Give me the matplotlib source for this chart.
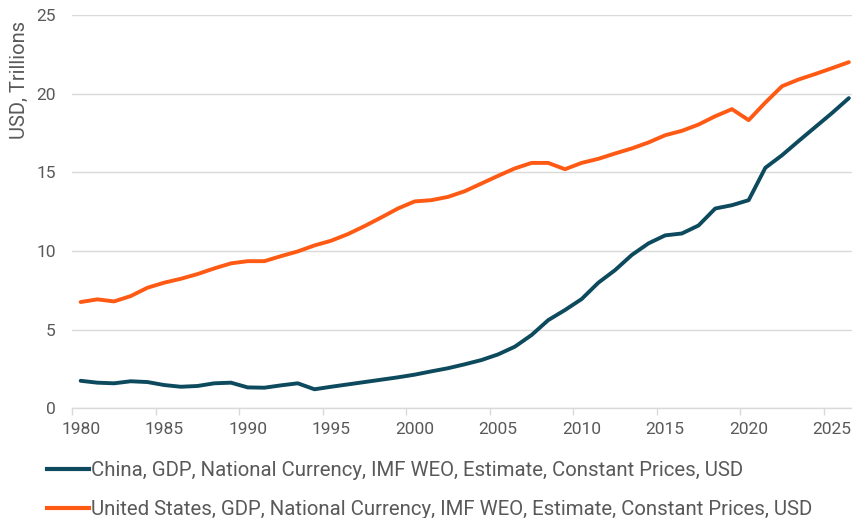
import matplotlib
matplotlib.use("Agg")
import matplotlib.pyplot as plt
from matplotlib.lines import Line2D
import numpy as np

years = list(range(1980, 2027))
china = [1.75, 1.63, 1.59, 1.72, 1.67, 1.48, 1.37, 1.42, 1.59, 1.63,
         1.33, 1.31, 1.46, 1.59, 1.21, 1.37, 1.52, 1.67, 1.82, 1.97,
         2.14, 2.35, 2.55, 2.80, 3.07, 3.43, 3.92, 4.66, 5.61, 6.25,
         6.95, 7.99, 8.79, 9.75, 10.49, 11.00, 11.12, 11.63, 12.71, 12.92,
         13.24, 15.30, 16.10, 17.01, 17.90, 18.79, 19.73]
usa = [6.76, 6.93, 6.80, 7.14, 7.67, 7.99, 8.24, 8.54, 8.90, 9.22,
       9.36, 9.36, 9.68, 9.98, 10.36, 10.66, 11.08, 11.59, 12.14, 12.71,
       13.16, 13.24, 13.45, 13.81, 14.30, 14.79, 15.26, 15.61, 15.61, 15.21,
       15.61, 15.87, 16.21, 16.53, 16.91, 17.37, 17.65, 18.05, 18.58, 19.03,
       18.33, 19.45, 20.49, 20.92, 21.27, 21.64, 22.02]
labels = ["China, GDP, National Currency, IMF WEO, Estimate, Constant Prices, USD",
          "United States, GDP, National Currency, IMF WEO, Estimate, Constant Prices, USD"]
colors = ["#0D4A5E", "#FF5A14"]
xtick_years = list(range(1980, 2026, 5))
yticks = [0, 5, 10, 15, 20, 25]

plt.rcParams['font.family'] = ['Roboto', 'DejaVu Sans']
txt = "#595959"
W, H = 852, 518
fig = plt.figure(figsize=(W/100, H/100), dpi=100)
ax = fig.add_axes([72.3/W, 1-408.3/H, (W-72.3)/W, (408.3-15.3)/H])

for vals, c, lab in zip([china, usa], colors, labels):
    ax.plot(years, vals, color=c, lw=2.8, label=lab, solid_capstyle='round', solid_joinstyle='round')

ax.set_xlim(1979.5, 1979.5 + (W-72.3)/16.7)
ax.set_ylim(0, 25)
ax.set_yticks(yticks)
ax.grid(axis='y', color='#D9D9D9', lw=1)
ax.set_axisbelow(True)
for s in ['top', 'right', 'left']:
    ax.spines[s].set_visible(False)
ax.spines['bottom'].set_color('#D9D9D9')
ax.spines['bottom'].set_linewidth(1)
ax.set_xticks([y - 0.5 for y in xtick_years])
ax.set_xticklabels([])
ax.set_xticks(xtick_years, minor=True)
ax.set_xticklabels([str(y) for y in xtick_years], minor=True)
ax.tick_params(axis='x', which='major', length=5, color='#D9D9D9', width=1)
ax.tick_params(axis='x', which='minor', length=0, pad=10, labelsize=12.5, labelcolor=txt)
ax.tick_params(axis='y', length=0, pad=12, labelsize=12.5, labelcolor=txt)

fig.text(19/W, 1-80/H, "USD, Trillions", rotation=90, ha='center', va='center',
         fontsize=14.5, color=txt)

handles = [Line2D([0], [0], color=c, lw=3) for c in colors]
fig.legend(handles, labels, loc='upper left', bbox_to_anchor=(47/W, 1-461/H),
           frameon=False, fontsize=14.7, labelcolor=txt, handlelength=2.05,
           handletextpad=0.1, labelspacing=1.0, borderaxespad=0, borderpad=0)

fig.savefig("out.png", dpi=100)
